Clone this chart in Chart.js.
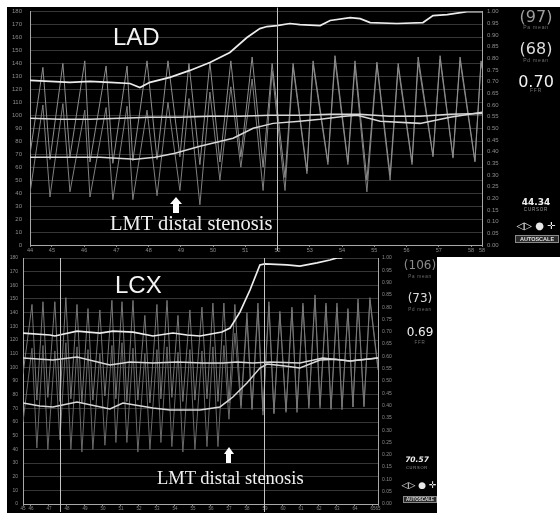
<!DOCTYPE html>
<html><head><meta charset="utf-8">
<script src="https://cdn.jsdelivr.net/npm/chart.js@4.4.1/dist/chart.umd.min.js"></script>
<style>
html,body{margin:0;padding:0;background:#fff;}
body{width:560px;height:513px;position:relative;overflow:hidden;font-family:"Liberation Sans",Arial,sans-serif;}
.panel{position:absolute;background:#000;}
canvas{position:absolute;display:block;}
.t{position:absolute;white-space:nowrap;line-height:1;}
.c{text-align:center;}
.val{font-family:"DejaVu Sans",sans-serif;}
.small{font-family:"Liberation Sans",Arial,sans-serif;color:#707070;letter-spacing:0.8px;}
.lbl{font-family:"Liberation Sans",Arial,sans-serif;color:#f4f4f4;font-size:24px;}
.serif{font-family:"Liberation Serif","Times New Roman",serif;color:#f0f0f0;}
.auto{position:absolute;background:#2a2a2a;border:1px solid #8a8a8a;color:#e0e0e0;font-weight:bold;text-align:center;box-sizing:border-box;line-height:1;}
.arrow{position:absolute;}
.arrow .head{width:0;height:0;border-left:solid transparent;border-right:solid transparent;border-bottom:solid #fff;margin:0 auto;}
.arrow .shaft{background:#fff;margin:0 auto;}
</style></head><body>
<div class="panel" style="left:7px;top:7px;width:553px;height:250px"></div>
<div class="panel" style="left:7px;top:257px;width:430px;height:256px"></div>
<canvas id="c1" width="560" height="257" style="left:0;top:0;width:560px;height:257px"></canvas>
<canvas id="c2" width="437" height="263" style="left:0;top:250px;width:437px;height:263px"></canvas>

<!-- top panel texts -->
<div class="t lbl" style="left:113px;top:25px">LAD</div>
<div class="t serif" style="left:110px;top:213px;font-size:20.5px">LMT distal stenosis</div>
<div class="arrow" style="left:170px;top:197px;width:12px">
  <div class="head" style="border-left-width:6px;border-right-width:6px;border-bottom-width:7px"></div>
  <div class="shaft" style="width:6px;height:9px"></div>
</div>
<div class="t c val" style="left:506px;top:9px;width:60px;font-size:16px;color:#9d9d9d">(97)</div>
<div class="t c small" style="left:506px;top:25px;width:60px;font-size:5px">Pa mean</div>
<div class="t c val" style="left:506px;top:41px;width:60px;font-size:16px;color:#dcdcdc">(68)</div>
<div class="t c small" style="left:506px;top:58px;width:60px;font-size:5px">Pd mean</div>
<div class="t c val" style="left:506px;top:74px;width:60px;font-size:16px;color:#f2f2f2">0.70</div>
<div class="t c small" style="left:506px;top:88px;width:60px;font-size:5px">FFR</div>
<div class="t c val" style="left:506px;top:198px;width:60px;font-size:9px;font-weight:bold;color:#eeeeee">44.34</div>
<div class="t c small" style="left:506px;top:208px;width:60px;font-size:4.5px;color:#9a9a9a">CURSOR</div>
<div class="t c val" style="left:506px;top:221px;width:60px;font-size:10px;color:#e8e8e8">◁▷ ● ✛</div>
<div class="auto" style="left:515px;top:235px;width:44px;height:8px;font-size:5.5px;padding-top:1px">AUTOSCALE</div>

<!-- bottom panel texts -->
<div class="t lbl" style="left:115px;top:273px">LCX</div>
<div class="t serif" style="left:157px;top:469px;font-size:18.5px">LMT distal stenosis</div>
<div class="arrow" style="left:223px;top:447px;width:11px">
  <div class="head" style="border-left-width:5.5px;border-right-width:5.5px;border-bottom-width:7px"></div>
  <div class="shaft" style="width:5px;height:9px"></div>
</div>
<div class="t c val" style="left:390px;top:259px;width:60px;font-size:12px;color:#8a8a8a">(106)</div>
<div class="t c small" style="left:390px;top:275px;width:60px;font-size:4.5px">Pa mean</div>
<div class="t c val" style="left:390px;top:292px;width:60px;font-size:12px;color:#dcdcdc">(73)</div>
<div class="t c small" style="left:390px;top:308px;width:60px;font-size:4.5px">Pd mean</div>
<div class="t c val" style="left:390px;top:325.5px;width:60px;font-size:12px;color:#efefef">0.69</div>
<div class="t c small" style="left:390px;top:341px;width:60px;font-size:4.5px">FFR</div>
<div class="t c val" style="left:387px;top:456px;width:60px;font-size:7.5px;font-weight:bold;font-style:italic;color:#eeeeee">70.57</div>
<div class="t c small" style="left:387px;top:466px;width:60px;font-size:4px;color:#9a9a9a">CURSOR</div>
<div class="t c val" style="left:389px;top:481px;width:60px;font-size:9px;color:#e8e8e8">◁▷ ● ✛</div>
<div class="auto" style="left:403px;top:496px;width:34px;height:7px;font-size:4.5px;padding-top:1px">AUTOSCALE</div>

<script>
// ---------- shared axis tick values ----------
const pressureTicks = [0,10,20,30,40,50,60,70,80,90,100,110,120,130,140,150,160,170,180];
const ratioTicks = [0,0.05,0.10,0.15,0.20,0.25,0.30,0.35,0.40,0.45,0.50,0.55,0.60,0.65,0.70,0.75,0.80,0.85,0.90,0.95,1.00];

// ---------- LAD (top) ----------
const ladTimeTicks = [44.32,45,46,47,48,49,50,51,52,53,54,55,56,57,58,58.34];
const ladPhasicT = [44.32,44.72,44.94,45.34,45.56,46.02,46.18,46.68,46.89,47.33,47.51,47.95,48.26,48.60,48.97,49.25,49.59,49.90,50.21,50.55,50.86,51.21,51.55,51.83,52.23,52.48,52.91,53.10,53.56,53.78,54.18,54.40,54.77,55.08,55.49,55.74,56.17,56.36,56.82,57.04,57.44,57.66,58.12,58.31,58.34];
const ladPa = [70,137,66,140,68,142,64,138,63,138,65,142,66,142,68,140,62,141,64,142,68,145,60,140,52,140,57,142,64,146,64,142,50,141,54,140,64,145,69,146,68,145,65,142,138];
const ladPd = [40,108,37,109,41,104,37,106,35,107,35,104,38,110,42,113,31,118,50,122,60,128,42,134,42,137,55,139,62,142,62,138,41,139,50,137,62,141,68,143,67,142,64,140,136];
const ladPaMeanT = [44.32,45.25,46.18,47.11,48.04,48.97,49.90,50.83,51.76,52.69,53.62,54.55,55.48,56.41,57.35,58.34];
const ladPaMean = [97.7,96.9,96.9,97.7,98.5,98.5,99.2,99.2,100,100,100.8,100.8,99.2,99.2,100.8,101.5];
const ladPdMeanT = [44.32,45.25,46.49,47.58,48.20,48.82,49.59,50.62,51.24,51.86,52.69,53.32,54.09,54.47,55.18,56.42,57.35,58.34];
const ladPdMean = [67.7,67.7,67.7,66.2,67.7,70.8,76.2,82.3,90,93.8,95.4,96.9,99.2,100,95.4,93.8,98.5,102.3];
const ladFfrT = [44.32,44.94,45.56,46.18,46.80,47.42,47.73,48.04,48.66,49.28,49.90,50.52,51.05,51.45,51.67,51.98,52.38,52.69,53.32,53.63,54.25,54.56,54.87,55.70,56.51,56.82,57.26,57.88,58.34];
const ladFfr = [0.705,0.701,0.697,0.701,0.697,0.692,0.675,0.697,0.718,0.748,0.782,0.825,0.889,0.927,0.936,0.940,0.949,0.944,0.940,0.962,0.974,0.970,0.953,0.949,0.953,0.983,0.987,1.00,1.00];
const ladCursors = [51.98];

// ---------- LCX (bottom) ----------
const lcxTimeTicks = [45.56,46,47,48,49,50,51,52,53,54,55,56,57,58,59,60,61,62,63,64,65,65.28];
const lcxPhasicT = [45.56,46.06,46.33,46.67,46.94,47.33,47.61,47.94,48.22,48.56,48.83,49.17,49.44,49.83,50.11,50.50,50.72,51.06,51.33,51.67,51.94,52.33,52.61,53.00,53.22,53.56,53.83,54.17,54.44,54.83,55.11,55.50,55.78,56.11,56.39,56.72,57.00,57.33,57.67,58.00,58.28,58.61,58.89,59.22,59.50,59.83,60.17,60.50,60.78,61.11,61.44,61.78,62.06,62.39,62.67,63.00,63.28,63.61,63.89,64.17,64.50,64.83,65.28];
const lcxPa = [95,146,76,148,78,148,75,151,77,146,74,143,76,142,79,149,77,148,75,149,76,138,74,146,77,149,78,138,75,142,76,144,77,147,75,147,74,146,72,140,70,147,68,148,66,141,68,144,67,147,70,153,72,147,70,147,69,143,71,150,72,151,100];
const lcxPd = [60,114,41,116,40,112,47,118,40,115,38,113,40,110,43,116,45,118,45,114,38,110,40,113,45,115,42,111,38,113,40,112,42,115,42,116,62,125,70,135,69,142,65,145,67,139,67,142,70,145,72,150,70,145,69,144,71,141,71,147,71,149,98];
const lcxPaMeanT = [45.56,47.22,48.56,50.39,51.50,52.78,54.11,55.56,56.67,57.44,58.33,59.28,60.94,62.22,63.72,65.28];
const lcxPaMean = [106.8,105.3,107.5,101.7,103.9,103.1,103.9,103.1,103.1,103.9,103.1,103.9,103.1,106.8,104.6,106.8];
const lcxPdMeanT = [45.56,46.50,47.22,48.56,50.39,51.11,52.78,53.72,55.39,56.50,57.22,58.00,58.72,59.11,60.11,60.94,62.06,62.89,63.72,65.28];
const lcxPdMean = [73.9,71.7,71.0,74.6,69.5,73.9,70.2,68.8,68.8,71.0,78.3,88.5,99.5,102.4,101,99.5,105.3,106,104.6,106.8];
const lcxFfrT = [45.56,47.06,47.33,48.56,49.83,50.56,51.67,52.78,53.89,54.67,55.39,56.61,57.06,57.61,58.17,58.72,59.00,60.22,60.94,61.89,62.61,63.00,63.30];
const lcxFfr = [0.695,0.687,0.683,0.703,0.695,0.703,0.699,0.683,0.695,0.687,0.683,0.699,0.715,0.780,0.870,0.972,0.976,0.972,0.967,0.980,0.992,1.00,1.00];
const lcxCursors = [47.61,58.94];

function pts(ts, vs){ return ts.map((t,i)=>({x:t,y:vs[i]})); }

const cursorPlugin = {
  id:'cursors',
  afterDatasetsDraw(chart, args, opts){
    const {ctx, chartArea, scales} = chart;
    ctx.save();
    ctx.strokeStyle = '#c4c4c4';
    ctx.lineWidth = 1;
    for (const t of opts.times){
      const px = Math.round(scales.x.getPixelForValue(t)) + 0.5;
      ctx.beginPath();
      ctx.moveTo(px, chartArea.top - opts.up);
      ctx.lineTo(px, chartArea.bottom + opts.down);
      ctx.stroke();
    }
    ctx.restore();
  }
};

function makeChart(id, c){
  const tickFont = {size:c.font, family:'Liberation Sans'};
  return new Chart(document.getElementById(id), {
    type:'line',
    data:{datasets:[
      {data:pts(c.ffrT,c.ffr), borderColor:'#ececec', borderWidth:1.7, yAxisID:'y1'},
      {data:pts(c.paMeanT,c.paMean), borderColor:'#d8d8d8', borderWidth:1.5, yAxisID:'y'},
      {data:pts(c.pdMeanT,c.pdMean), borderColor:'#d8d8d8', borderWidth:1.5, yAxisID:'y'},
      {data:pts(c.phT,c.pa), borderColor:c.phA, borderWidth:1, yAxisID:'y'},
      {data:pts(c.phT,c.pd), borderColor:c.phB, borderWidth:1, yAxisID:'y'}
    ]},
    options:{
      responsive:false, animation:false, devicePixelRatio:1,
      elements:{point:{radius:0}, line:{tension:0, fill:false}},
      plugins:{legend:{display:false}, tooltip:{enabled:false}, cursors:{times:c.cursors, up:c.up, down:c.down}},
      layout:{padding:{top:c.padTop, left:0, right:0, bottom:0}},
      scales:{
        x:{type:'linear', min:c.xTicks[0], max:c.xTicks[c.xTicks.length-1],
           afterBuildTicks:s=>{ s.ticks = c.xTicks.map(v=>({value:v})); },
           afterFit:s=>{ s.height = c.xH; },
           ticks:{autoSkip:false, maxRotation:0, minRotation:0, color:'#8c8c8c', font:{size:c.xFont, family:'Liberation Sans'}, padding:0, callback:v=>String(Math.floor(v))},
           grid:{drawOnChartArea:false, color:'#8a8a8a', tickLength:2},
           border:{color:'#a8a8a8', width:1}},
        y:{position:'left', min:0, max:180,
           afterBuildTicks:s=>{ s.ticks = pressureTicks.map(v=>({value:v})); },
           afterFit:s=>{ s.width = c.yW; },
           ticks:{color:'#8c8c8c', font:tickFont, padding:c.yPad, callback:v=>String(v)},
           grid:{color:'#363636', lineWidth:1, drawTicks:false},
           border:{color:'#a8a8a8', width:1}},
        y1:{position:'right', min:0, max:1,
           afterBuildTicks:s=>{ s.ticks = ratioTicks.map(v=>({value:v})); },
           afterFit:s=>{ s.width = c.y1W; },
           ticks:{color:'#8c8c8c', font:tickFont, padding:c.y1Pad, callback:v=>v.toFixed(2)},
           grid:{drawOnChartArea:false, drawTicks:false},
           border:{color:'#a8a8a8', width:1}}
      }
    },
    plugins:[cursorPlugin]
  });
}

makeChart('c1', {
  phT:ladPhasicT, pa:ladPa, pd:ladPd, paMeanT:ladPaMeanT, paMean:ladPaMean,
  pdMeanT:ladPdMeanT, pdMean:ladPdMean, ffrT:ladFfrT, ffr:ladFfr,
  xTicks:ladTimeTicks, cursors:ladCursors, up:4, down:6,
  padTop:11, xH:12, yW:30, y1W:78, yPad:8, y1Pad:5, font:6, xFont:5.5,
  phA:'#8e8e8e', phB:'#808080'
});
makeChart('c2', {
  phT:lcxPhasicT, pa:lcxPa, pd:lcxPd, paMeanT:lcxPaMeanT, paMean:lcxPaMean,
  pdMeanT:lcxPdMeanT, pdMean:lcxPdMean, ffrT:lcxFfrT, ffr:lcxFfr,
  xTicks:lcxTimeTicks, cursors:lcxCursors, up:0, down:8,
  padTop:8, xH:9, yW:23, y1W:59, yPad:5, y1Pad:4, font:5, xFont:4.5,
  phA:'#777777', phB:'#6a6a6a'
});
</script>
</body></html>
